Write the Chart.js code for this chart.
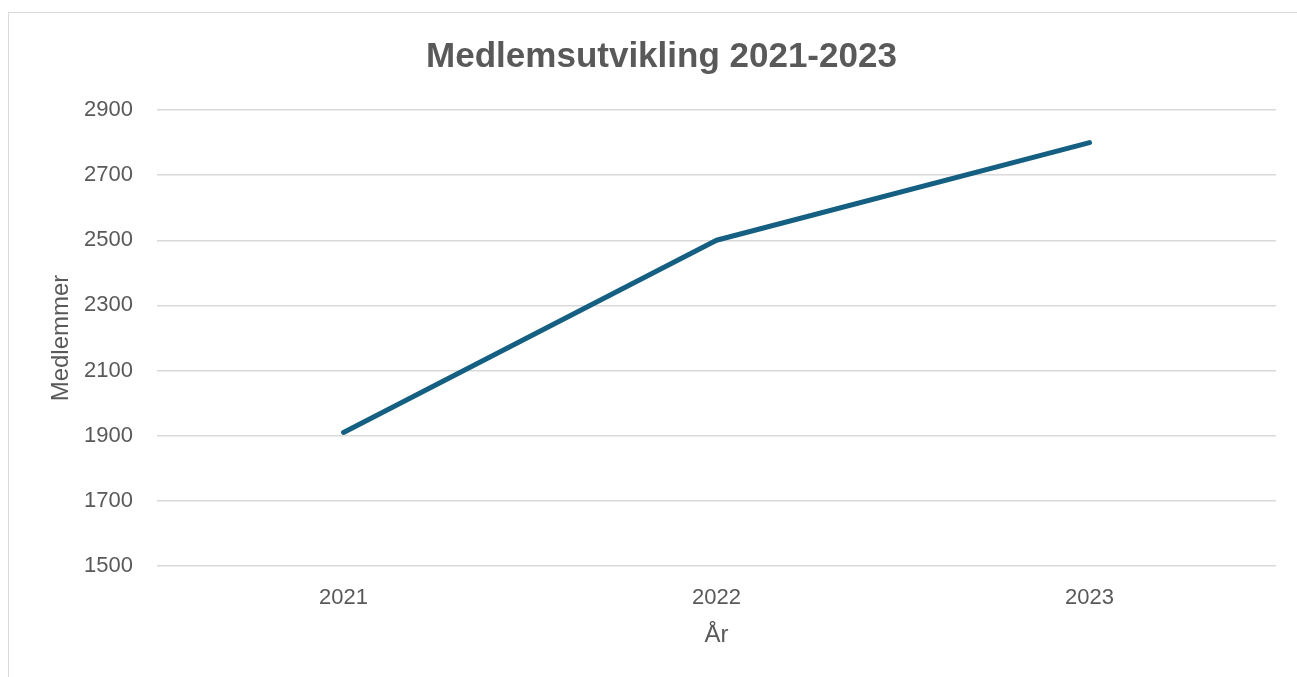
<!DOCTYPE html>
<html>
<head>
<meta charset="utf-8">
<script src="https://cdn.jsdelivr.net/npm/chart.js@4/dist/chart.umd.min.js"></script>
<style>
  html, body { margin: 0; padding: 0; background: #ffffff; overflow: hidden; }
  #frame { position: absolute; left: 8px; top: 12px; width: 1400px; height: 800px; border: 1px solid #d9d9d9; box-sizing: border-box; }
  #c { position: absolute; left: 0; top: 0; }
</style>
</head>
<body>
<div id="frame"></div>
<canvas id="c" width="1297" height="677"></canvas>
<script>
const categories = ['2021', '2022', '2023'];
const members = [1910, 2500, 2800];
const yTicks = [1500, 1700, 1900, 2100, 2300, 2500, 2700, 2900];
const titleText = 'Medlemsutvikling 2021-2023';
const xTitle = 'År';
const yTitle = 'Medlemmer';

const textColor = '#595959';
const fontFamily = '"Liberation Sans", Arial, sans-serif';

new Chart(document.getElementById('c'), {
  type: 'line',
  data: {
    labels: categories,
    datasets: [{
      label: yTitle,
      data: members,
      borderColor: '#156082',
      backgroundColor: '#156082',
      borderWidth: 5,
      borderCapStyle: 'round',
      borderJoinStyle: 'round',
      pointRadius: 0,
      pointHoverRadius: 0,
      tension: 0,
      fill: false
    }]
  },
  options: {
    responsive: false,
    animation: false,
    layout: { padding: { left: 47, right: 21, top: 0, bottom: 27 } },
    plugins: {
      legend: { display: false },
      tooltip: { enabled: false },
      title: {
        display: true,
        text: titleText,
        color: textColor,
        font: { family: fontFamily, size: 35, weight: 'bold', lineHeight: 1.2 },
        padding: { top: 36, bottom: 32 }
      }
    },
    scales: {
      x: {
        type: 'category',
        offset: true,
        grid: { display: false, drawTicks: false },
        border: { display: false },
        ticks: {
          color: textColor,
          padding: 19,
          font: { family: fontFamily, size: 22, lineHeight: 1.2 },
          maxRotation: 0
        },
        title: {
          display: true,
          text: xTitle,
          color: textColor,
          padding: 0,
          font: { family: fontFamily, size: 24, lineHeight: 1.2 }
        },
        afterFit: (scale) => { scale.height = 84; }
      },
      y: {
        min: yTicks[0],
        max: yTicks[yTicks.length - 1],
        afterBuildTicks: (scale) => { scale.ticks = yTicks.map(v => ({ value: v })); },
        grid: { color: '#d9d9d9', lineWidth: 1.5, drawTicks: false },
        border: { display: false },
        ticks: {
          color: textColor,
          padding: 24,
          font: { family: fontFamily, size: 22, lineHeight: 1.2 },
          callback: (value) => String(value)
        },
        title: {
          display: true,
          text: yTitle,
          color: textColor,
          padding: 0,
          font: { family: fontFamily, size: 24, lineHeight: 1.2 }
        },
        afterFit: (scale) => { scale.width = 110; }
      }
    }
  }
});
</script>
</body>
</html>
